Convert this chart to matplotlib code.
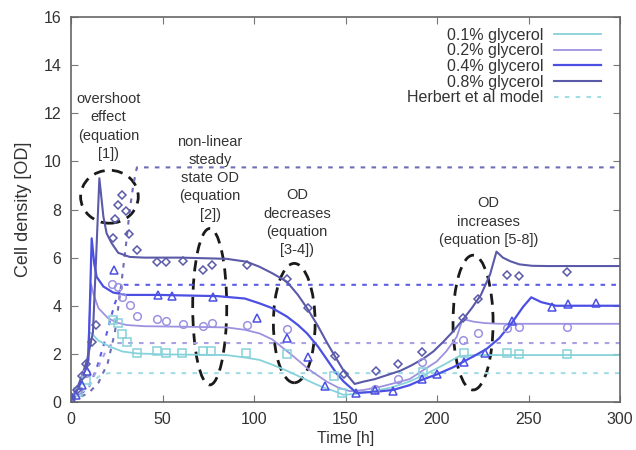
import matplotlib
matplotlib.use("Agg")
import matplotlib.pyplot as plt
from matplotlib.patches import Ellipse

plt.rcParams['font.family'] = ['Liberation Sans', 'DejaVu Sans']

# ---------------- data ----------------
# model curves (solid lines)
t_m08 = [0, 3, 6, 9, 12, 14, 15.5, 17.7, 19.5, 22.2, 25.8, 32, 40, 60, 85, 96, 103, 110, 118, 124, 129,
         135, 140, 145, 149, 155, 160, 166, 172, 180, 186, 192.5, 198, 203.4, 209, 214.4, 219, 224,
         229, 232.5, 236, 240, 245, 252, 260, 300]
y_m08 = [0.2, 0.5, 1.1, 1.8, 2.9, 6.5, 9.3, 7.7, 7.0, 6.6, 6.2, 6.03, 6.0, 6.0, 5.95, 5.83, 5.62, 5.35,
         5.0, 4.45, 3.9, 3.15, 2.45, 1.8, 1.3, 0.75, 0.85, 0.95, 1.1, 1.3, 1.52, 1.8, 2.1, 2.5, 2.95,
         3.45, 3.9, 4.45, 5.3, 6.25, 6.0, 5.85, 5.72, 5.66, 5.65, 5.65]

t_m04 = [0, 3, 6, 9, 9.5, 11.3, 12.7, 14, 17.7, 23, 30, 48, 80, 95, 103, 110, 118, 124, 129, 135, 140,
         145, 149, 156, 166, 176, 185, 191, 200, 209, 215, 220, 227, 234, 241, 247, 251.5, 257, 265, 300]
y_m04 = [0.15, 0.45, 1.0, 1.6, 1.75, 6.8, 5.75, 5.2, 4.8, 4.55, 4.45, 4.45, 4.4, 4.3, 4.1, 3.9, 3.55,
         3.2, 2.85, 2.3, 1.75, 1.2, 0.85, 0.38, 0.42, 0.5, 0.7, 0.9, 1.15, 1.45, 1.7, 1.9, 2.2, 2.65,
         3.3, 3.95, 4.35, 4.15, 4.0, 4.0]

t_m02 = [0, 3, 6, 9, 11, 12.2, 15, 20, 25, 30.4, 40, 60, 85, 95, 103, 110, 121.5, 130, 139.7, 146,
         152.5, 160, 170, 185, 192, 199.8, 205, 210.8, 214, 219.8, 226, 234, 300]
y_m02 = [0.2, 0.45, 1.0, 1.7, 4.9, 4.5, 3.9, 3.5, 3.3, 3.2, 3.15, 3.13, 3.1, 3.0, 2.85, 2.6, 1.9, 1.35,
         0.85, 0.6, 0.45, 0.5, 0.65, 0.95, 1.3, 1.68, 2.1, 2.71, 3.45, 3.34, 3.28, 3.25, 3.25]

t_m01 = [0, 3, 6, 9, 10, 11.3, 15, 21.3, 28, 35.8, 50, 85, 95, 103, 110, 118, 125, 132, 138, 144,
         148.8, 155, 165, 175, 185, 195, 205, 212, 220, 300]
y_m01 = [0.15, 0.4, 0.9, 1.6, 2.9, 2.85, 2.55, 2.3, 2.1, 2.02, 1.98, 1.95, 1.85, 1.75, 1.55, 1.3, 1.05,
         0.8, 0.6, 0.45, 0.3, 0.33, 0.45, 0.6, 0.85, 1.2, 1.6, 1.9, 1.95, 1.95]

# Herbert et al model (dotted)
t_h08 = [0, 5, 10, 15, 20, 24, 27, 30, 32, 34, 36, 300]
y_h08 = [0.1, 0.2, 0.4, 0.8, 1.6, 2.9, 4.6, 6.5, 7.9, 9.0, 9.75, 9.75]
t_h04 = [0, 5, 10, 14, 18, 21, 24, 27, 29, 300]
y_h04 = [0.15, 0.3, 0.65, 1.4, 2.4, 3.3, 4.1, 4.7, 4.87, 4.87]
t_h02 = [0, 5, 10, 14, 17, 20, 23, 300]
y_h02 = [0.15, 0.35, 0.7, 1.3, 1.8, 2.25, 2.45, 2.45]
t_h01 = [0, 4, 8, 12, 15, 18, 21, 300]
y_h01 = [0.15, 0.3, 0.55, 0.85, 1.05, 1.17, 1.2, 1.2]

# measured data (markers)
t_d08 = [0, 3.5, 5.8, 8.2, 11.6, 13.7, 22.8, 24, 25.8, 27.7, 30, 31.9, 36.2, 47, 52, 61.4, 72, 77, 96.3,
         118, 129.3, 144.3, 149.3, 166.7, 178.5, 192, 214.4, 222.6, 238, 245, 271]
y_d08 = [0.2, 0.5, 1.1, 1.6, 2.5, 3.2, 6.8, 7.6, 8.2, 8.6, 7.95, 7.0, 6.3, 5.83, 5.82, 5.86, 5.5, 5.7,
         5.7, 5.1, 3.9, 1.9, 1.16, 1.3, 1.6, 2.08, 3.48, 4.3, 5.27, 5.24, 5.4]

t_d04 = [0, 3, 6, 9, 23.7, 47.3, 55, 77.8, 101.8, 118, 129.3, 139, 156, 166, 176, 191.6, 200, 215, 226,
         240.8, 262.6, 271.7, 286.9]
y_d04 = [0.15, 0.3, 0.7, 1.3, 5.5, 4.45, 4.42, 4.38, 3.48, 2.65, 1.88, 0.66, 0.39, 0.5, 0.47, 0.94,
         1.16, 1.68, 2.05, 3.38, 3.93, 4.07, 4.1]

t_d02 = [0, 4, 8, 22.2, 25.8, 27.7, 32.2, 36.2, 47, 52, 61.4, 72, 77, 96.3, 118, 166, 178.6, 191.6,
         214.4, 222.6, 238, 245, 271]
y_d02 = [0.2, 0.5, 1.2, 4.9, 4.8, 4.38, 4.03, 3.57, 3.43, 3.37, 3.24, 3.17, 3.27, 3.19, 3.05, 0.54,
         0.94, 1.68, 2.58, 2.88, 3.06, 3.13, 3.13]

t_d01 = [0, 4, 8, 23.1, 25.8, 27.7, 30.4, 36.2, 47, 52, 60.5, 72, 76.6, 95.7, 118.2, 143.7, 148, 192.5,
         215, 238, 245, 271]
y_d01 = [0.15, 0.4, 0.9, 3.4, 3.27, 2.83, 2.5, 2.05, 2.1, 2.05, 2.05, 2.1, 2.1, 2.05, 2.0, 1.08, 0.39,
         1.26, 2.05, 2.05, 2.0, 2.0]

legend_labels = ["0.1% glycerol", "0.2% glycerol", "0.4% glycerol", "0.8% glycerol", "Herbert et al model"]
x_ticks = [0, 50, 100, 150, 200, 250, 300]
y_ticks = [0, 2, 4, 6, 8, 10, 12, 14, 16]

# ---------------- style ----------------
c01 = '#86d2da'
c02 = '#9c92e0'
c04 = '#4c50e2'
c08 = '#5a5aa8'
ch08 = '#6d6db8'
ch04 = '#5c5ce8'
ch02 = '#a9a1e4'
ch01 = '#a2dde4'
txt = '#333333'

fig = plt.figure(figsize=(6.36, 4.5), dpi=100)
ax = fig.add_axes([71/636, 48/450, 549/636, 385/450])

dot = (0, (2.2, 3.0))
ax.plot(t_h08, y_h08, color=ch08, lw=1.5, ls=dot)
ax.plot(t_h04, y_h04, color=ch04, lw=1.5, ls=dot)
ax.plot(t_h02, y_h02, color=ch02, lw=1.5, ls=dot)
hh, = ax.plot(t_h01, y_h01, color=ch01, lw=1.5, ls=dot)

l01, = ax.plot(t_m01, y_m01, color=c01, lw=1.3)
l02, = ax.plot(t_m02, y_m02, color=c02, lw=1.3)
l04, = ax.plot(t_m04, y_m04, color=c04, lw=1.6)
l08, = ax.plot(t_m08, y_m08, color=c08, lw=1.5)

mk = dict(ls='none', mfc='none', mew=1.1, ms=5.5)
ax.plot(t_d01, y_d01, marker='s', mec=c01, **mk)
ax.plot(t_d02, y_d02, marker='o', mec=c02, **mk)
ax.plot(t_d04, y_d04, marker='^', mec=c04, **mk)
ax.plot(t_d08, y_d08, marker='D', mec=c08, **dict(mk, ms=4.5))

ell = dict(fill=False, ec='#1a1a1a', lw=2.0, ls=(0, (4, 2.6)))
ax.add_patch(Ellipse((21.0, 8.53), 31.5, 2.2, **ell))
ax.add_patch(Ellipse((75.8, 3.96), 18.6, 6.5, **ell))
ax.add_patch(Ellipse((122.0, 3.28), 22.8, 4.96, **ell))
ax.add_patch(Ellipse((219.7, 3.3), 21.9, 5.6, **ell))

afs = 10.5
als = 1.38
ax.text(20.6, 11.45, "overshoot\neffect\n(equation\n[1])", ha='center', va='center',
        fontsize=afs, color=txt, linespacing=als)
ax.text(76, 9.3, "non-linear\nsteady\nstate OD\n(equation\n[2])", ha='center', va='center',
        fontsize=afs, color=txt, linespacing=als)
ax.text(123.5, 7.45, "OD\ndecreases\n(equation\n[3-4])", ha='center', va='center',
        fontsize=afs, color=txt, linespacing=als)
ax.text(228, 7.5, "OD\nincreases\n(equation [5-8])", ha='center', va='center',
        fontsize=afs, color=txt, linespacing=als)

ax.set_xlim(0, 300)
ax.set_ylim(0, 16)
ax.set_xticks(x_ticks)
ax.set_yticks(y_ticks)
ax.tick_params(direction='in', top=True, right=True, length=5, width=0.8, color='#777777',
               labelsize=11.5, labelcolor=txt, pad=7)
for s in ax.spines.values():
    s.set_color('#666666')
    s.set_linewidth(1.2)
ax.set_xlabel("Time [h]", fontsize=11.5, color=txt, labelpad=3)
ax.set_ylabel("Cell density [OD]", fontsize=13, color=txt, labelpad=8)

leg = ax.legend([l01, l02, l04, l08, hh], legend_labels, loc='upper right',
                bbox_to_anchor=(0.965, 0.972), borderaxespad=0, borderpad=0,
                frameon=False, markerfirst=False, fontsize=11.5, handlelength=2.9,
                handletextpad=0.7, labelspacing=0.04)
for t in leg.get_texts():
    t.set_color(txt)

fig.savefig("out.png", dpi=100)
